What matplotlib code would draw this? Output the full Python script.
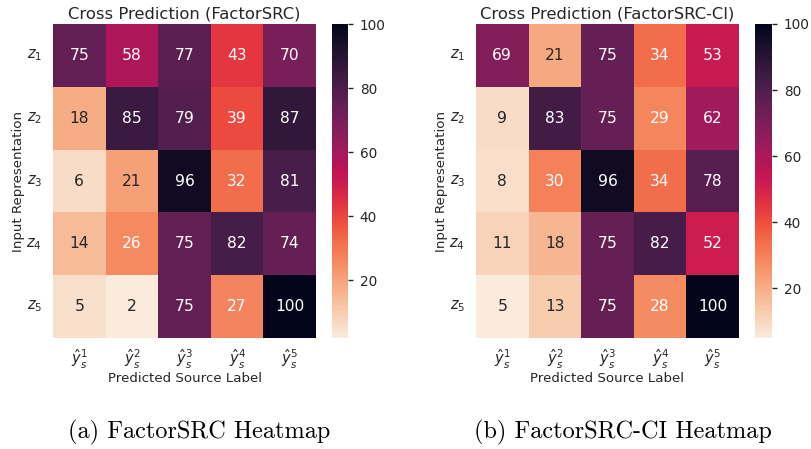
import numpy as np
import matplotlib
matplotlib.use("Agg")
import matplotlib.pyplot as plt
import seaborn as sns

row_labels = [r"$z_1$", r"$z_2$", r"$z_3$", r"$z_4$", r"$z_5$"]
col_labels = [r"$\hat{y}_s^1$", r"$\hat{y}_s^2$", r"$\hat{y}_s^3$", r"$\hat{y}_s^4$", r"$\hat{y}_s^5$"]

factorsrc = [[75, 58, 77, 43, 70],
             [18, 85, 79, 39, 87],
             [6, 21, 96, 32, 81],
             [14, 26, 75, 82, 74],
             [5, 2, 75, 27, 100]]
factorsrc_ci = [[69, 21, 75, 34, 53],
                [9, 83, 75, 29, 62],
                [8, 30, 96, 34, 78],
                [11, 18, 75, 82, 52],
                [5, 13, 75, 28, 100]]

titles = ["Cross Prediction (FactorSRC)", "Cross Prediction (FactorSRC-CI)"]
captions = ["(a) FactorSRC Heatmap", "(b) FactorSRC-CI Heatmap"]

sns.set_theme()
plt.rcParams['font.family'] = ['DejaVu Sans']

fig = plt.figure(figsize=(8.11, 4.49), dpi=100)
W, H = 811, 449
def px(x0, y0, x1, y1):
    return [x0 / W, 1 - y1 / H, (x1 - x0) / W, (y1 - y0) / H]

axes = [fig.add_axes(px(53, 24, 316, 338)), fig.add_axes(px(476, 24, 739, 338))]
caxes = [fig.add_axes(px(332, 24, 348, 338)), fig.add_axes(px(755, 24, 772, 338))]
cap_x = [199, 623]

for ax, cax, data, title, cap, cx in zip(axes, caxes, [factorsrc, factorsrc_ci], titles, captions, cap_x):
    arr = np.array(data)
    sns.heatmap(arr, ax=ax, cbar_ax=cax, cmap="rocket_r", annot=True, fmt="d",
                annot_kws={"fontsize": 11.2}, xticklabels=col_labels, yticklabels=row_labels)
    ax.set_title(title, fontsize=11.8, pad=4)
    ax.set_xlabel("Predicted Source Label", fontsize=9.6, labelpad=1)
    ax.set_ylabel("Input Representation", fontsize=9.6, labelpad=1)
    ax.tick_params(axis='y', labelsize=10.5, length=0, pad=8)
    ax.tick_params(axis='x', labelsize=10.5, length=0, pad=7)
    plt.setp(ax.get_yticklabels(), rotation=0)
    plt.setp(ax.get_xticklabels(), rotation=0)
    cax.set_yticks([20, 40, 60, 80, 100])
    cax.tick_params(labelsize=9.8, length=3.5, width=1, pad=5)
    fig.text(cx / W, 1 - 432 / H, cap, family="cmr10", fontsize=17.5, ha="center", va="center", color="black")

fig.savefig("out.png", dpi=100)
